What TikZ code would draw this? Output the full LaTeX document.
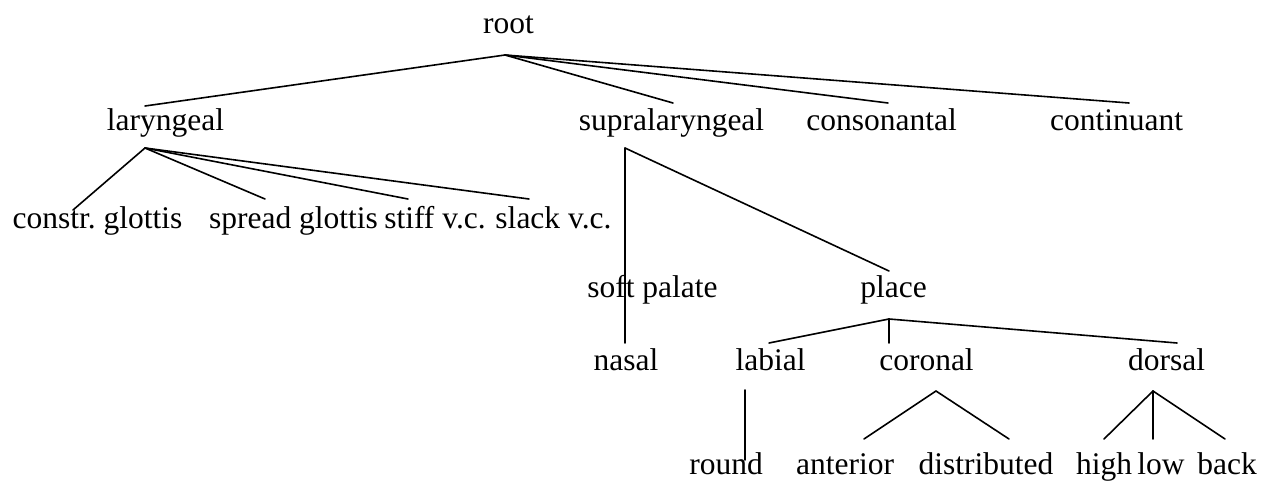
\documentclass[tikz,border=0pt]{standalone}
\usepackage{fontspec}
\setmainfont{Liberation Serif}
\frenchspacing
\begin{document}
\begin{tikzpicture}[x=1pt,y=1pt,
  lbl/.style={anchor=base,inner sep=0pt,outer sep=0pt,font=\fontsize{31.5}{36}\selectfont},
  edge/.style={line width=1.6pt,line cap=round,line join=round}]
\useasboundingbox (0,0) rectangle (1273,-485);
% labels
\node[lbl] (root) at (508.5,-33) {root};
\node[lbl] (lar) at (165.5,-130) {laryngeal};
\node[lbl] (supra) at (671.5,-130) {supralaryngeal};
\node[lbl] (cons) at (881.5,-130) {consonantal};
\node[lbl] (cont) at (1116.5,-130) {continuant};
\node[lbl] (constr) at (97.5,-228) {constr. glottis};
\node[lbl] (spread) at (293.5,-228) {spread glottis};
\node[lbl] (stiff) at (435,-228) {stiff v.c.};
\node[lbl] (slack) at (553.5,-228) {slack v.c.};
\node[lbl] (soft) at (652.5,-297) {soft palate};
\node[lbl] (place) at (893.5,-297) {place};
\node[lbl] (nasal) at (626,-370) {nasal};
\node[lbl] (labial) at (770.5,-370) {labial};
\node[lbl] (coronal) at (926.5,-370) {coronal};
\node[lbl] (dorsal) at (1166.5,-370) {dorsal};
\node[lbl] (round) at (726,-474) {round};
\node[lbl] (anterior) at (845,-474) {anterior};
\node[lbl] (distributed) at (986,-474) {distributed};
\node[lbl] (high) at (1104,-474) {high};
\node[lbl] (low) at (1161,-474) {low};
\node[lbl] (back) at (1227,-474) {back};
% junction and end points
\coordinate (rootJ) at (505,-55);
\coordinate (larT) at (145,-106);
\coordinate (supraT) at (673,-103);
\coordinate (consT) at (888,-103);
\coordinate (contT) at (1129,-103);
\coordinate (larJ) at (145,-148);
\coordinate (constrT) at (73,-210);
\coordinate (spreadT) at (265,-199);
\coordinate (stiffT) at (408,-199);
\coordinate (slackT) at (529,-199);
\coordinate (supraJ) at (625,-148);
\coordinate (softM) at (625,-285);
\coordinate (nasalT) at (625,-343);
\coordinate (placeT) at (889,-271);
\coordinate (placeJ) at (889,-319);
\coordinate (labialT) at (769,-343);
\coordinate (coronalT) at (889,-343);
\coordinate (dorsalT) at (1177,-343);
\coordinate (labialJ) at (745,-390);
\coordinate (roundT) at (745,-460);
\coordinate (coronalJ) at (936,-391);
\coordinate (anteriorT) at (864,-439);
\coordinate (distributedT) at (1009,-439);
\coordinate (dorsalJ) at (1153,-391);
\coordinate (highT) at (1104,-439);
\coordinate (lowT) at (1153,-439);
\coordinate (backT) at (1225,-439);
% connectors
\draw[edge] (rootJ) -- (larT);
\draw[edge] (rootJ) -- (supraT);
\draw[edge] (rootJ) -- (consT);
\draw[edge] (rootJ) -- (contT);
\draw[edge] (larJ) -- (constrT);
\draw[edge] (larJ) -- (spreadT);
\draw[edge] (larJ) -- (stiffT);
\draw[edge] (larJ) -- (slackT);
\draw[edge] (supraJ) -- (softM);
\draw[edge] (softM) -- (nasalT);
\draw[edge] (supraJ) -- (placeT);
\draw[edge] (placeJ) -- (labialT);
\draw[edge] (placeJ) -- (coronalT);
\draw[edge] (placeJ) -- (dorsalT);
\draw[edge] (labialJ) -- (roundT);
\draw[edge] (coronalJ) -- (anteriorT);
\draw[edge] (coronalJ) -- (distributedT);
\draw[edge] (dorsalJ) -- (highT);
\draw[edge] (dorsalJ) -- (lowT);
\draw[edge] (dorsalJ) -- (backT);
\end{tikzpicture}
\end{document}
